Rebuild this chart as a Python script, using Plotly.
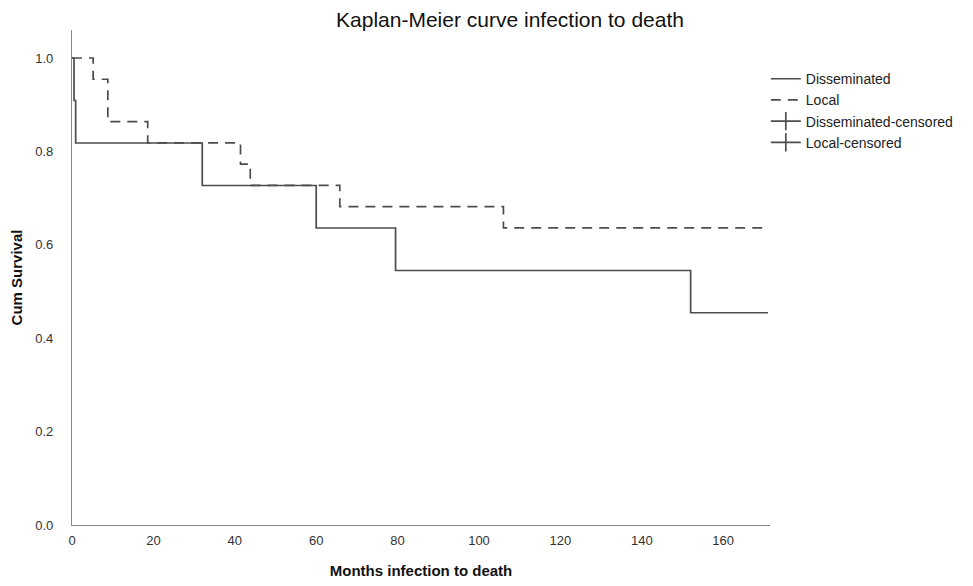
import plotly.graph_objects as go

# Disseminated group (Kaplan-Meier steps)
dis_time = [0, 0.5, 0.9, 32, 60, 79.5, 152, 171]
dis_surv = [1.0, 0.909, 0.818, 0.727, 0.636, 0.545, 0.4545, 0.4545]

# Local group
loc_time = [0, 5.2, 8.8, 18.6, 41.4, 43.8, 65.8, 106, 171]
loc_surv = [1.0, 0.9545, 0.8636, 0.8182, 0.7727, 0.7273, 0.6818, 0.6364, 0.6364]

x_ticks = [0, 20, 40, 60, 80, 100, 120, 140, 160]
y_ticks = [0.0, 0.2, 0.4, 0.6, 0.8, 1.0]

line_col = "#4d4d4d"
font_main = "Liberation Sans, Arial, sans-serif"

fig = go.Figure()
fig.add_trace(go.Scatter(x=dis_time, y=dis_surv, mode="lines", line_shape="hv",
                         name="Disseminated",
                         line=dict(color=line_col, width=1.7)))
fig.add_trace(go.Scatter(x=loc_time, y=loc_surv, mode="lines", line_shape="hv",
                         name="Local",
                         line=dict(color=line_col, width=1.7, dash="10px,7px")))
fig.add_trace(go.Scatter(x=[None], y=[None], mode="lines+markers",
                         name="Disseminated-censored",
                         line=dict(color=line_col, width=1.7),
                         marker=dict(symbol="line-ns-open", size=13,
                                     line=dict(color=line_col, width=1.7))))
fig.add_trace(go.Scatter(x=[None], y=[None], mode="lines+markers",
                         name="Local-censored",
                         line=dict(color=line_col, width=1.7),
                         marker=dict(symbol="line-ns-open", size=13,
                                     line=dict(color=line_col, width=1.7))))

fig.update_layout(
    width=973, height=586,
    paper_bgcolor="white", plot_bgcolor="white",
    margin=dict(l=64, r=211, t=22, b=69),
    title=dict(text="Kaplan-Meier curve infection to death",
               x=(510 - 8) / 973, xref="container", xanchor="center",
               y=1 - (20 - 8) / 586, yref="container", yanchor="middle",
               font=dict(family=font_main, size=21, color="#111111")),
    font=dict(family=font_main, size=13, color="#333333"),
    legend=dict(x=0.994, xanchor="left", y=0.933, yanchor="top",
                bgcolor="rgba(0,0,0,0)", tracegroupgap=0,
                font=dict(family=font_main, size=14, color="#222222")),
    showlegend=True,
)
fig.update_xaxes(
    range=[0, 171.5], tickvals=x_ticks, ticktext=[str(v) for v in x_ticks],
    showgrid=False, zeroline=False, showline=True, linecolor="#888888", linewidth=1.3,
    ticks="outside", ticklen=3, tickcolor="rgba(0,0,0,0)",
    tickfont=dict(family=font_main, size=13, color="#333333"),
    automargin=False,
    title=dict(text="<b>Months infection to death</b>", standoff=18,
               font=dict(family=font_main, size=15, color="#111111")),
)
fig.update_yaxes(
    range=[0, 1.06], tickvals=y_ticks, ticktext=["%.1f" % v for v in y_ticks],
    showgrid=False, zeroline=False, showline=True, linecolor="#888888", linewidth=1.3,
    ticks="outside", ticklen=15, tickcolor="rgba(0,0,0,0)",
    tickfont=dict(family=font_main, size=13, color="#333333"),
    automargin=False,
    title=dict(text="<b>Cum Survival</b>", standoff=10,
               font=dict(family=font_main, size=15, color="#111111")),
)

fig.write_html("out.html")
